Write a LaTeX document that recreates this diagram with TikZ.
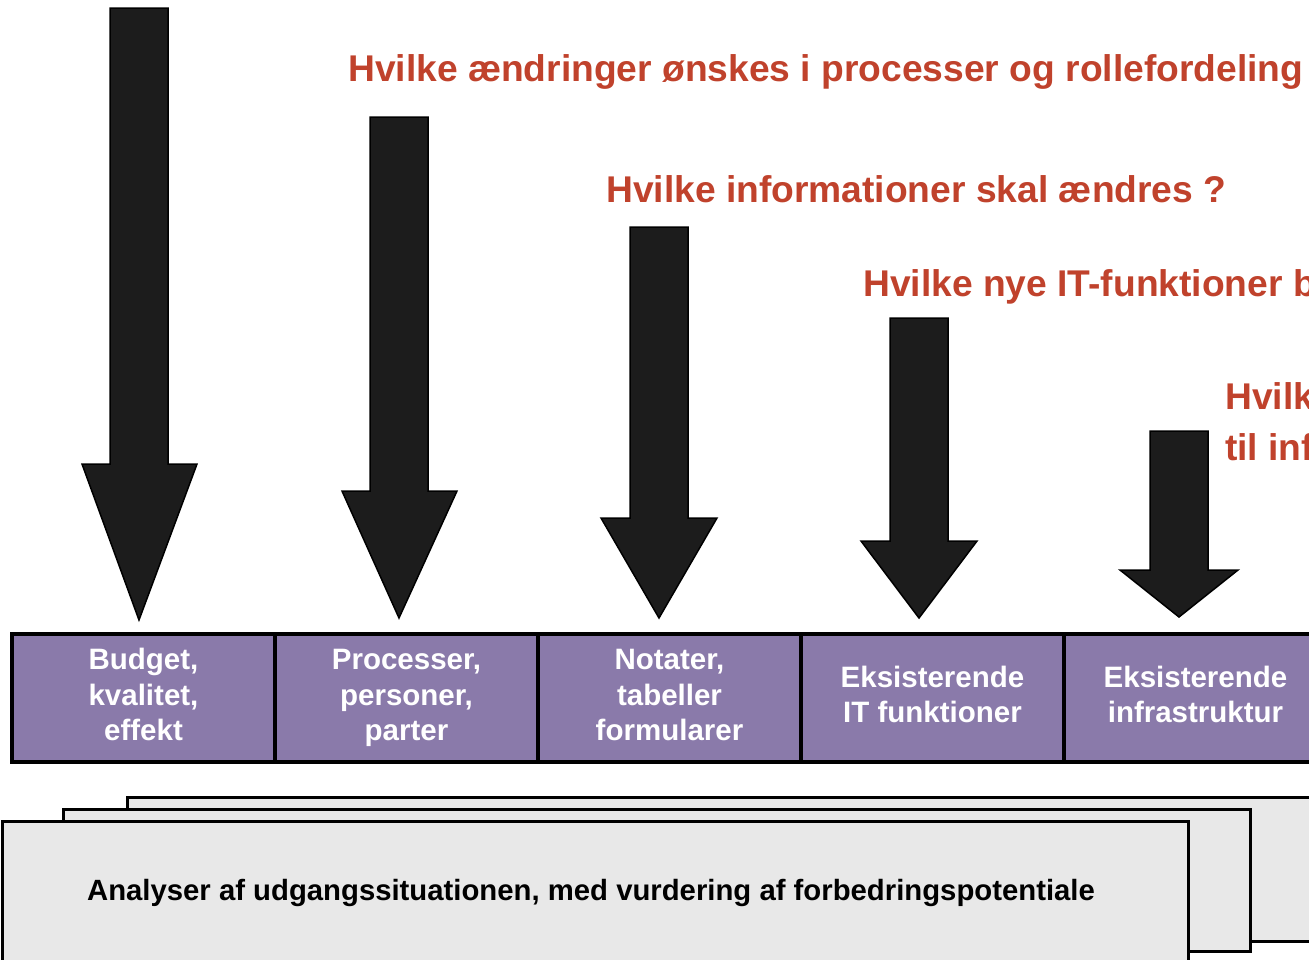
\documentclass[tikz,border=0pt]{standalone}
\usepackage{fontspec}
\setmainfont{Liberation Sans}
\usetikzlibrary{positioning}
\definecolor{qred}{RGB}{192,66,44}
\definecolor{boxpurple}{RGB}{138,122,170}
\definecolor{arrowblack}{RGB}{28,28,28}
\definecolor{sheetgray}{RGB}{232,232,232}
\tikzset{
  question/.style={anchor=base west, text=qred, inner sep=0,
    font=\fontsize{37.2}{51}\selectfont\bfseries},
  areabox/.style={draw=black, line width=3.5pt, fill=boxpurple, outer sep=0,
    minimum width=263pt, minimum height=128pt, text=white, align=center,
    font=\fontsize{29.5}{35.5}\selectfont\bfseries, inner sep=0},
  sheet/.style={draw=black, line width=3pt, fill=sheetgray},
  blockarrow/.style={fill=arrowblack, draw=black, line width=1.5pt, line join=miter}
}
\begin{document}
\begin{tikzpicture}[x=1pt, y=-1pt]
            \useasboundingbox (0,0) rectangle (1309,959);
            \clip (0,0) rectangle (1309,959);
            % questions
            \node[question] (q1) at (348,81) {Hvilke ændringer ønskes i processer og rollefordeling ?};
            \node[question] (q2) at (606,202) {Hvilke informationer skal ændres ?};
            \node[question] (q3) at (863,296) {Hvilke nye IT-funktioner behøves ?};
            \node[question] (q4) at (1225,409) {Hvilke ændringer};
            \node[question] (q4b) at (1225,460) {til infrastrukturen ?};
            % areas
            \node[areabox] (budget) at (143.5,698) {\strut Budget,\\\strut kvalitet,\\\strut effekt};
            \node[areabox, right=0pt of budget] (proc) {\strut Processer,\\\strut personer,\\\strut parter};
            \node[areabox, right=0pt of proc] (notat) {\strut Notater,\\\strut tabeller\\\strut formularer};
            \node[areabox, right=0pt of notat] (itfunk) {\strut Eksisterende\\\strut IT funktioner};
            \node[areabox, right=0pt of itfunk] (infra) {\strut Eksisterende\\\strut infrastruktur};
            % arrows
            \draw[blockarrow] (110,8) -- (168,8) -- (168,464) -- (197,464) -- (139,620) -- (82,464) -- (110,464) -- cycle;
            \draw[blockarrow] (370,117) -- (428,117) -- (428,491) -- (457,491) -- (399,618) -- (342,491) -- (370,491) -- cycle;
            \draw[blockarrow] (630,227) -- (688,227) -- (688,518) -- (717,518) -- (659,618) -- (601,518) -- (630,518) -- cycle;
            \draw[blockarrow] (890,318) -- (948,318) -- (948,541) -- (977,541) -- (919,618) -- (861,541) -- (890,541) -- cycle;
            \draw[blockarrow] (1150,431) -- (1208,431) -- (1208,570) -- (1238,570) -- (1179,617) -- (1120,570) -- (1150,570) -- cycle;
            % stacked sheets
            \draw[sheet] (127,797) rectangle (1330,941);
            \draw[sheet] (63,809) rectangle (1250,951);
            \draw[sheet] (2,821) rectangle (1188,980);
            \node[font=\fontsize{29.3}{33}\selectfont\bfseries, inner sep=0] (analyse) at (591,893) {Analyser af udgangssituationen, med vurdering af forbedringspotentiale};
        \end{tikzpicture}
\end{document}
